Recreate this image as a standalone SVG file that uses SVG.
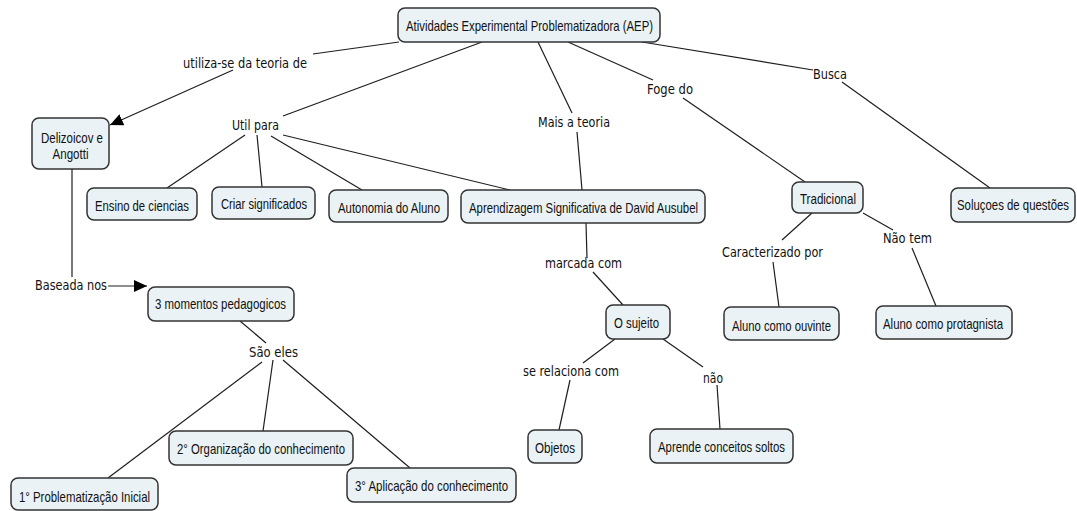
<svg xmlns="http://www.w3.org/2000/svg" width="1077" height="511" viewBox="0 0 1077 511">
<style>
.bg{fill:#ffffff}
.n rect{fill:#eaf2f5;stroke:#333333;stroke-width:1.5}
.n text{font-family:"Liberation Sans",Arial,sans-serif;font-size:15px;fill:#111;text-anchor:middle;dominant-baseline:central}
.lp{font-family:"DejaVu Sans",Verdana,sans-serif;font-size:14px;fill:#111;text-anchor:middle;dominant-baseline:central}
.c line{stroke:#1e1e1e;stroke-width:1.2}
</style>
<defs>
<marker id="arr" markerWidth="14" markerHeight="12" refX="13" refY="6" orient="auto" markerUnits="userSpaceOnUse">
<path d="M0,0 L13,6 L0,12 Z" fill="#000"/>
</marker>
</defs>
<rect class="bg" x="0" y="0" width="1077" height="511"/>

<g id="connectors" class="c">
<line x1="399" y1="42" x2="313" y2="54"/>
<line x1="233" y1="70" x2="110" y2="125" marker-end="url(#arr)"/>
<line x1="482" y1="42" x2="283" y2="116"/>
<line x1="245" y1="135" x2="167" y2="188"/>
<line x1="257" y1="135" x2="262" y2="187"/>
<line x1="271" y1="136" x2="362" y2="190"/>
<line x1="283" y1="135" x2="510" y2="190"/>
<line x1="538" y1="42" x2="572" y2="113"/>
<line x1="577" y1="132" x2="582" y2="190"/>
<line x1="568" y1="42" x2="653" y2="80"/>
<line x1="683" y1="98" x2="805" y2="182"/>
<line x1="642" y1="42" x2="813" y2="70"/>
<line x1="842" y1="82" x2="990" y2="188"/>
<line x1="812" y1="213" x2="782" y2="240"/>
<line x1="773" y1="262" x2="779" y2="307"/>
<line x1="863" y1="213" x2="893" y2="230"/>
<line x1="912" y1="248" x2="936" y2="306"/>
<line x1="586" y1="223" x2="587" y2="258"/>
<line x1="593" y1="272" x2="623" y2="305"/>
<line x1="615" y1="339" x2="583" y2="363"/>
<line x1="570" y1="380" x2="559" y2="430"/>
<line x1="663" y1="339" x2="703" y2="367"/>
<line x1="717" y1="385" x2="720" y2="429"/>
<line x1="72" y1="169" x2="72" y2="277"/>
<line x1="108" y1="286" x2="147" y2="286" marker-end="url(#arr)"/>
<line x1="240" y1="321" x2="266" y2="343"/>
<line x1="262" y1="362" x2="108" y2="478"/>
<line x1="273" y1="360" x2="263" y2="431"/>
<line x1="283" y1="360" x2="410" y2="468"/>
</g>

<g id="linking-phrases">
<text class="lp" x="245" y="63" textLength="124" lengthAdjust="spacingAndGlyphs">utiliza-se da teoria de</text>
<text class="lp" x="255.5" y="125" textLength="47" lengthAdjust="spacingAndGlyphs">Util para</text>
<text class="lp" x="574" y="122" textLength="72" lengthAdjust="spacingAndGlyphs">Mais a teoria</text>
<text class="lp" x="670" y="89" textLength="46" lengthAdjust="spacingAndGlyphs">Foge do</text>
<text class="lp" x="830" y="74" textLength="34" lengthAdjust="spacingAndGlyphs">Busca</text>
<text class="lp" x="71" y="285" textLength="72" lengthAdjust="spacingAndGlyphs">Baseada nos</text>
<text class="lp" x="273.5" y="352" textLength="49" lengthAdjust="spacingAndGlyphs">São eles</text>
<text class="lp" x="583.5" y="263" textLength="77" lengthAdjust="spacingAndGlyphs">marcada com</text>
<text class="lp" x="571" y="371" textLength="96" lengthAdjust="spacingAndGlyphs">se relaciona com</text>
<text class="lp" x="713" y="378" textLength="20" lengthAdjust="spacingAndGlyphs">não</text>
<text class="lp" x="772.5" y="252" textLength="101" lengthAdjust="spacingAndGlyphs">Caracterizado por</text>
<text class="lp" x="907.5" y="238" textLength="49" lengthAdjust="spacingAndGlyphs">Não tem</text>
</g>

<g id="n-aep" class="n"><rect x="398" y="8" width="262" height="34" rx="7"/><text x="529.5" y="25" textLength="247" lengthAdjust="spacingAndGlyphs">Atividades Experimental Problematizadora (AEP)</text></g>
<g id="n-delizoicov" class="n"><rect x="32" y="118" width="77" height="51" rx="7"/><text x="72" y="137" textLength="62" lengthAdjust="spacingAndGlyphs">Delizoicov e</text><text x="70.5" y="153" textLength="36" lengthAdjust="spacingAndGlyphs">Angotti</text></g>
<g id="n-ensino" class="n"><rect x="87" y="188" width="110" height="32" rx="7"/><text x="142" y="205" textLength="94" lengthAdjust="spacingAndGlyphs">Ensino de ciencias</text></g>
<g id="n-criar" class="n"><rect x="212" y="187" width="103" height="32" rx="7"/><text x="264" y="203" textLength="86" lengthAdjust="spacingAndGlyphs">Criar significados</text></g>
<g id="n-autonomia" class="n"><rect x="329" y="190" width="119" height="32" rx="7"/><text x="389" y="207" textLength="102" lengthAdjust="spacingAndGlyphs">Autonomia do Aluno</text></g>
<g id="n-aprendizagem" class="n"><rect x="461" y="190" width="244" height="33" rx="7"/><text x="583.5" y="207" textLength="229" lengthAdjust="spacingAndGlyphs">Aprendizagem Significativa de David Ausubel</text></g>
<g id="n-tradicional" class="n"><rect x="792" y="182" width="71" height="31" rx="7"/><text x="828" y="198" textLength="56" lengthAdjust="spacingAndGlyphs">Tradicional</text></g>
<g id="n-solucoes" class="n"><rect x="951" y="188" width="124" height="34" rx="7"/><text transform="translate(1013,205) scale(0.8,1)" x="0" y="0" textLength="140" lengthAdjust="spacingAndGlyphs">Soluçoes de questões</text></g>
<g id="n-3momentos" class="n"><rect x="148" y="287" width="146" height="34" rx="7"/><text x="220.5" y="303" textLength="131" lengthAdjust="spacingAndGlyphs">3 momentos pedagogicos</text></g>
<g id="n-sujeito" class="n"><rect x="606" y="305" width="64" height="34" rx="7"/><text x="636.5" y="322" textLength="45" lengthAdjust="spacingAndGlyphs">O sujeito</text></g>
<g id="n-ouvinte" class="n"><rect x="724" y="307" width="115" height="33" rx="7"/><text x="781.5" y="325" textLength="99" lengthAdjust="spacingAndGlyphs">Aluno como ouvinte</text></g>
<g id="n-protagnista" class="n"><rect x="876" y="306" width="136" height="33" rx="7"/><text x="943" y="323" textLength="120" lengthAdjust="spacingAndGlyphs">Aluno como protagnista</text></g>
<g id="n-organizacao" class="n"><rect x="169" y="431" width="184" height="34" rx="7"/><text x="261" y="448" textLength="168" lengthAdjust="spacingAndGlyphs">2° Organização do conhecimento</text></g>
<g id="n-problematizacao" class="n"><rect x="11" y="478" width="147" height="32" rx="7"/><text x="84.5" y="496" textLength="131" lengthAdjust="spacingAndGlyphs">1° Problematização Inicial</text></g>
<g id="n-aplicacao" class="n"><rect x="347" y="468" width="169" height="34" rx="7"/><text x="431.5" y="485" textLength="153" lengthAdjust="spacingAndGlyphs">3° Aplicação do conhecimento</text></g>
<g id="n-objetos" class="n"><rect x="528" y="430" width="54" height="33" rx="7"/><text x="555" y="447" textLength="40" lengthAdjust="spacingAndGlyphs">Objetos</text></g>
<g id="n-aprende" class="n"><rect x="650" y="429" width="143" height="34" rx="7"/><text x="721.5" y="446" textLength="127" lengthAdjust="spacingAndGlyphs">Aprende conceitos soltos</text></g>
</svg>
